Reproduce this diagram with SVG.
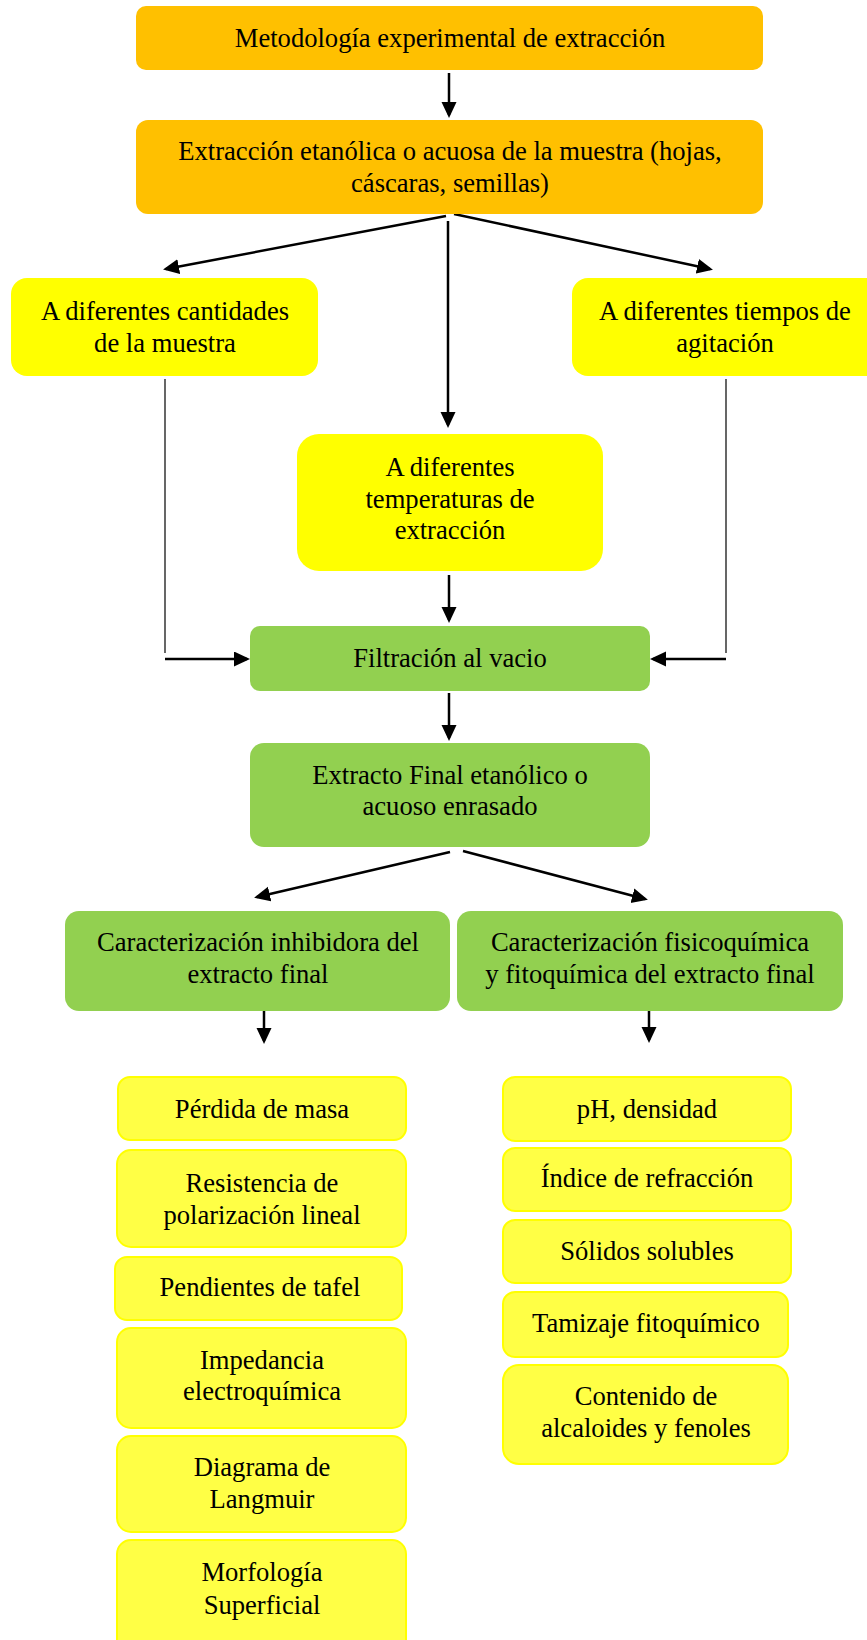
<svg xmlns="http://www.w3.org/2000/svg" width="867" height="1640" viewBox="0 0 867 1640">
  <defs>
    <marker id="arrow" markerUnits="userSpaceOnUse" markerWidth="18" markerHeight="16" refX="13" refY="7.5" orient="auto">
      <path d="M0,0 L16,7.5 L0,15 z" fill="#000"/>
    </marker>
    <style>
      text { font-family: "Liberation Serif", "Times New Roman", serif; font-size: 26.6px; fill: #000; text-anchor: middle; }
      .orange { fill: #FFC000; }
      .yellow { fill: #FFFF00; }
      .green { fill: #92D050; }
      .item { fill: #FFFF45; stroke: #FFFF00; stroke-width: 2; }
      .arr { stroke: #000; stroke-width: 2.5; fill: none; marker-end: url(#arrow); }
      .thin { stroke: #000; stroke-width: 1.2; fill: none; }
    </style>
  </defs>
  <rect width="867" height="1640" fill="#FFFFFF"/>

  <!-- connectors -->
  <g id="connectors">
    <line class="arr" x1="449" y1="73" x2="449" y2="115"/>
    <line class="arr" x1="446" y1="216" x2="166" y2="269"/>
    <line class="arr" x1="454" y1="214" x2="710" y2="269"/>
    <line class="arr" x1="448" y1="221" x2="448" y2="425"/>
    <line class="thin" x1="165" y1="379" x2="165" y2="653"/>
    <line class="thin" x1="726" y1="379" x2="726" y2="653"/>
    <line class="arr" x1="165" y1="659" x2="247" y2="659"/>
    <line class="arr" x1="726" y1="659" x2="653" y2="659"/>
    <line class="arr" x1="449" y1="575" x2="449" y2="620"/>
    <line class="arr" x1="449" y1="693" x2="449" y2="738"/>
    <line class="arr" x1="450" y1="852" x2="257" y2="897"/>
    <line class="arr" x1="463" y1="851" x2="645" y2="899"/>
    <line class="arr" x1="264" y1="1011" x2="264" y2="1041"/>
    <line class="arr" x1="649" y1="1011" x2="649" y2="1040"/>
  </g>

  <g id="metodologia">
    <rect class="orange" x="136" y="6" width="627" height="64" rx="10"/>
    <text x="450" y="47">Metodología experimental de extracción</text>
  </g>

  <g id="extraccion">
    <rect class="orange" x="136" y="120" width="627" height="94" rx="12"/>
    <text x="450" y="160">Extracción etanólica o acuosa de la muestra (hojas,</text>
    <text x="450" y="192">cáscaras, semillas)</text>
  </g>

  <g id="cantidades">
    <rect class="yellow" x="11" y="278" width="307" height="98" rx="16"/>
    <text x="165" y="320">A diferentes cantidades</text>
    <text x="165" y="352">de la muestra</text>
  </g>

  <g id="tiempos">
    <rect class="yellow" x="572" y="278" width="310" height="98" rx="16"/>
    <text x="725" y="320">A diferentes tiempos de</text>
    <text x="725" y="352">agitación</text>
  </g>

  <g id="temperaturas">
    <rect class="yellow" x="297" y="434" width="306" height="137" rx="22"/>
    <text x="450" y="476">A diferentes</text>
    <text x="450" y="508">temperaturas de</text>
    <text x="450" y="539">extracción</text>
  </g>

  <g id="filtracion">
    <rect class="green" x="250" y="626" width="400" height="65" rx="10"/>
    <text x="450" y="667">Filtración al vacio</text>
  </g>

  <g id="extracto-final">
    <rect class="green" x="250" y="743" width="400" height="104" rx="14"/>
    <text x="450" y="784">Extracto Final etanólico o</text>
    <text x="450" y="815">acuoso enrasado</text>
  </g>

  <g id="caract-inhibidora">
    <rect class="green" x="65" y="911" width="385" height="100" rx="14"/>
    <text x="258" y="951">Caracterización inhibidora del</text>
    <text x="258" y="983">extracto final</text>
  </g>

  <g id="caract-fisicoquimica">
    <rect class="green" x="457" y="911" width="386" height="100" rx="14"/>
    <text x="650" y="951">Caracterización fisicoquímica</text>
    <text x="650" y="983">y fitoquímica del extracto final</text>
  </g>

  <!-- inhibitory characterisation techniques -->
  <g id="perdida-masa">
    <rect class="item" x="118" y="1077" width="288" height="63" rx="12"/>
    <text x="262" y="1118">Pérdida de masa</text>
  </g>
  <g id="resistencia">
    <rect class="item" x="117" y="1150" width="289" height="97" rx="14"/>
    <text x="262" y="1192">Resistencia de</text>
    <text x="262" y="1224">polarización lineal</text>
  </g>
  <g id="tafel">
    <rect class="item" x="115" y="1257" width="287" height="63" rx="12"/>
    <text x="260" y="1296">Pendientes de tafel</text>
  </g>
  <g id="impedancia">
    <rect class="item" x="117" y="1328" width="289" height="100" rx="14"/>
    <text x="262" y="1369">Impedancia</text>
    <text x="262" y="1400">electroquímica</text>
  </g>
  <g id="langmuir">
    <rect class="item" x="117" y="1436" width="289" height="96" rx="14"/>
    <text x="262" y="1476">Diagrama de</text>
    <text x="262" y="1508">Langmuir</text>
  </g>
  <g id="morfologia">
    <rect class="item" x="117" y="1540" width="289" height="120" rx="14"/>
    <text x="262" y="1581">Morfología</text>
    <text x="262" y="1614">Superficial</text>
  </g>

  <!-- physicochemical / phytochemical tests -->
  <g id="ph-densidad">
    <rect class="item" x="503" y="1077" width="288" height="64" rx="12"/>
    <text x="647" y="1118">pH, densidad</text>
  </g>
  <g id="refraccion">
    <rect class="item" x="503" y="1148" width="288" height="63" rx="12"/>
    <text x="647" y="1187">Índice de refracción</text>
  </g>
  <g id="solidos">
    <rect class="item" x="503" y="1220" width="288" height="63" rx="12"/>
    <text x="647" y="1260">Sólidos solubles</text>
  </g>
  <g id="tamizaje">
    <rect class="item" x="503" y="1292" width="285" height="65" rx="12"/>
    <text x="646" y="1332">Tamizaje fitoquímico</text>
  </g>
  <g id="alcaloides">
    <rect class="item" x="503" y="1365" width="285" height="99" rx="16"/>
    <text x="646" y="1405">Contenido de</text>
    <text x="646" y="1437">alcaloides y fenoles</text>
  </g>
</svg>
